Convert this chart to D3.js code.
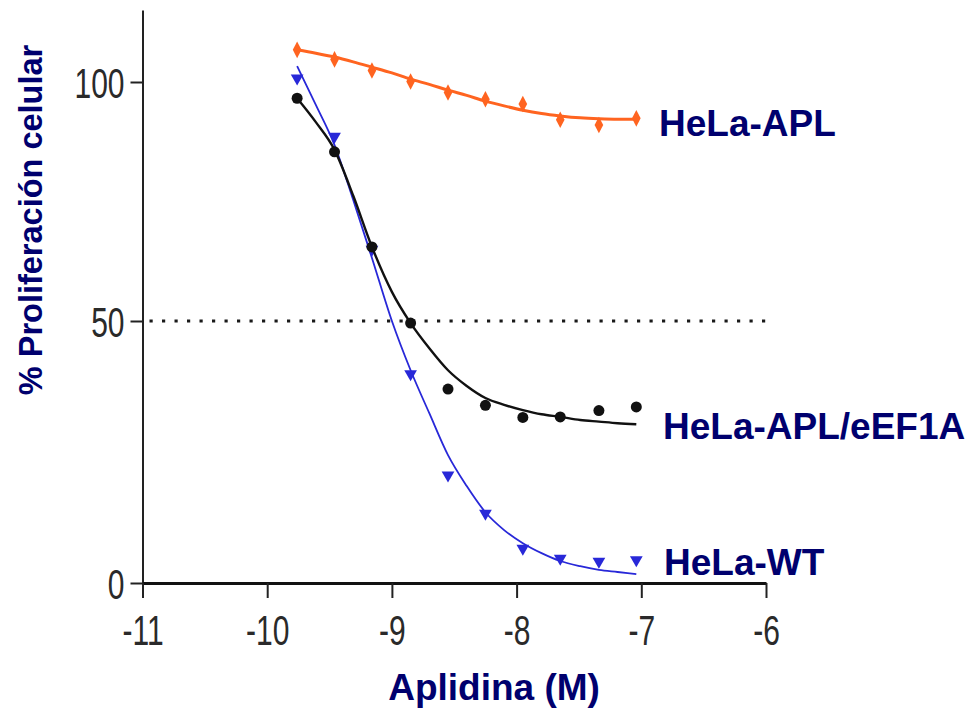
<!DOCTYPE html>
<html>
<head>
<meta charset="utf-8">
<script src="https://cdn.jsdelivr.net/npm/d3@7"></script>
<style>
  body { margin: 0; background: #fff; }
  svg { display: block; }
</style>
</head>
<body>
<div id="chart"></div>
<script>
// log10 of aplidine concentration (M) for the measured points
var doseLog = [-9.76, -9.46, -9.16, -8.85, -8.55, -8.25, -7.95, -7.65, -7.34, -7.04];

var aplValues   = [106.7, 104.7, 102.4, 100.1, 97.8, 96.4, 95.4, 92.1, 91.0, 92.4];
var eef1aValues = [96.6, 85.4, 65.5, 49.6, 37.0, 33.9, 31.6, 31.7, 32.9, 33.6];
var wtValues    = [100.8, 88.6, 65.0, 39.9, 20.6, 13.3, 6.6, 4.7, 4.1, 4.4];

// fitted curves
var fitLog = [-9.76, -9.61, -9.46, -9.31, -9.16, -9.00, -8.85, -8.70, -8.55, -8.40,
              -8.25, -8.10, -7.95, -7.80, -7.65, -7.49, -7.34, -7.19, -7.04];
var aplFit   = [106.7, 106.0, 105.2, 104.2, 103.1, 101.9, 100.6, 99.5, 98.3, 97.2,
                96.0, 95.0, 94.1, 93.4, 92.9, 92.5, 92.3, 92.2, 92.2];
var eef1aFit = [96.6, 91.6, 85.8, 76.2, 65.5, 56.1, 49.6, 44.8, 40.6, 37.6,
                35.3, 34.0, 33.0, 32.2, 31.7, 31.1, 30.8, 30.5, 30.3];
var wtFit    = [103.3, 95.2, 86.8, 75.3, 63.2, 50.0, 40.6, 32.4, 24.4, 18.5,
                13.5, 10.1, 7.6, 5.7, 4.2, 3.2, 2.5, 2.1, 1.7];

var xTicks = [-11, -10, -9, -8, -7, -6];
var yTicks = [0, 50, 100];
var seriesNames = ["HeLa-APL", "HeLa-APL/eEF1A", "HeLa-WT"];

var navy = "#00006e";
var tickStretch = 1.4;

var svg = d3.select("#chart")
  .append("svg")
  .attr("width", 970)
  .attr("height", 713);

var x = d3.scaleLinear()
  .domain([-11, -6])
  .range([142.5, 766]);

// the y axis in the source is not evenly spaced, so use a piecewise scale
var y = d3.scaleLinear()
  .domain([0, 50, 100, 115])
  .range([583, 321, 82, 10]);

// dotted 50% line
svg.append("line")
  .attr("x1", x(-11) + 7)
  .attr("x2", x(-6))
  .attr("y1", y(50))
  .attr("y2", y(50))
  .attr("stroke", "#1a1a1a")
  .attr("stroke-width", 3.2)
  .attr("stroke-dasharray", "3.2,9.3");

// axes
var yAxis = svg.append("g")
  .attr("transform", "translate(" + x(-11) + ",0)")
  .call(d3.axisLeft(y)
    .tickValues(yTicks)
    .tickSize(12)
    .tickSizeOuter(0)
    .tickPadding(6)
    .tickFormat(function(d) { return String(d); }));

var xAxis = svg.append("g")
  .attr("transform", "translate(0," + y(0) + ")")
  .call(d3.axisBottom(x)
    .tickValues(xTicks)
    .tickSize(15)
    .tickSizeOuter(0)
    .tickFormat(function(d) { return String(d); }));

yAxis.select(".domain").attr("stroke", "#222").attr("stroke-width", 2);
yAxis.selectAll(".tick line").attr("stroke", "#222").attr("stroke-width", 2);
xAxis.select(".domain").attr("stroke", "#111").attr("stroke-width", 3);
xAxis.selectAll(".tick line").attr("stroke", "#222").attr("stroke-width", 2);

svg.selectAll(".tick text")
  .attr("font-family", "Liberation Sans, Arial, sans-serif")
  .attr("font-size", 30)
  .attr("fill", "#2a2a2a");

yAxis.selectAll(".tick text")
  .attr("dy", "0.36em")
  .attr("transform", "scale(1," + tickStretch + ")");

xAxis.selectAll(".tick text")
  .attr("y", 62 / tickStretch)
  .attr("dy", 0)
  .attr("transform", "scale(1," + tickStretch + ")");

// curves
var line = d3.line()
  .x(function(d) { return x(d[0]); })
  .y(function(d) { return y(d[1]); })
  .curve(d3.curveMonotoneX);

function zip(a, b) {
  return a.map(function(v, i) { return [v, b[i]]; });
}

function drawSeries(values, fit, color, width, symbol, size, rotate, sx) {
  svg.append("path")
    .datum(zip(fitLog, fit))
    .attr("fill", "none")
    .attr("stroke", color)
    .attr("stroke-width", width)
    .attr("d", line);

  svg.append("g")
    .selectAll("path")
    .data(zip(doseLog, values))
    .enter()
    .append("path")
    .attr("d", d3.symbol().type(symbol).size(size))
    .attr("transform", function(d) {
      return "translate(" + x(d[0]) + "," + y(d[1]) + ") rotate(" + rotate + ") scale(" + sx + ",1)";
    })
    .attr("fill", color);
}

drawSeries(wtValues, wtFit, "#2828d8", 1.8, d3.symbolTriangle, 70, 180, 1);
drawSeries(eef1aValues, eef1aFit, "#111", 2.4, d3.symbolCircle, 95, 0, 1);
drawSeries(aplValues, aplFit, "#ff6420", 3, d3.symbolDiamond, 80, 0, 0.9);

// series labels
var labelPos = [[659, 136], [663, 439], [664, 575]];
svg.selectAll(".series-label")
  .data(seriesNames)
  .enter()
  .append("text")
  .attr("class", "series-label")
  .attr("x", function(d, i) { return labelPos[i][0]; })
  .attr("y", function(d, i) { return labelPos[i][1]; })
  .attr("font-family", "Liberation Sans, Arial, sans-serif")
  .attr("font-weight", "bold")
  .attr("font-size", 37)
  .attr("fill", navy)
  .text(function(d) { return d; });

// axis titles
svg.append("text")
  .attr("transform", "translate(42,220) rotate(-90)")
  .attr("text-anchor", "middle")
  .attr("font-family", "Liberation Sans, Arial, sans-serif")
  .attr("font-weight", "bold")
  .attr("font-size", 32.5)
  .attr("fill", navy)
  .text("% Proliferación celular");

svg.append("text")
  .attr("x", 494)
  .attr("y", 700)
  .attr("text-anchor", "middle")
  .attr("font-family", "Liberation Sans, Arial, sans-serif")
  .attr("font-weight", "bold")
  .attr("font-size", 37)
  .attr("fill", navy)
  .text("Aplidina (M)");
</script>
</body>
</html>
